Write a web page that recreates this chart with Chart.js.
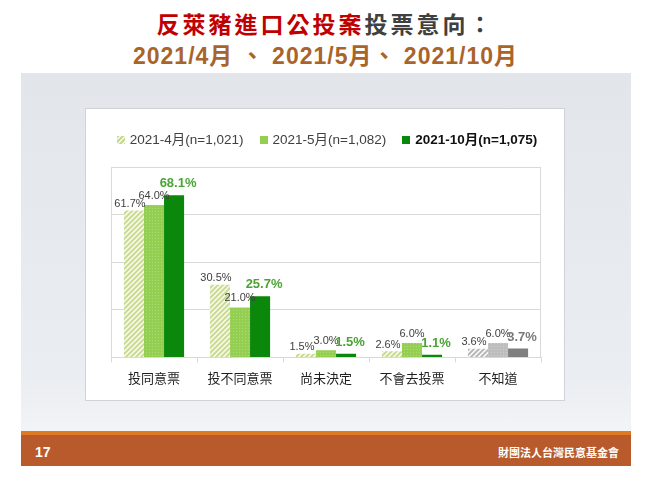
<!DOCTYPE html>
<html>
<head>
<meta charset="utf-8">
<script src="https://cdn.jsdelivr.net/npm/chart.js@4"></script>
<style>
  body { margin: 0; width: 651px; height: 483px; background: #fff; position: relative; overflow: hidden;
         font-family: "Liberation Sans", "Noto Sans CJK TC", sans-serif; }
  .title1 { position: absolute; top: 8px; left: 0; width: 651px; text-align: center; font-size: 23px;
            font-weight: bold; letter-spacing: 3px; color: #404040; line-height: 30px;
            font-family: "Noto Sans CJK TC", sans-serif; }
  .title1 .red { color: #c00000; }
  .title2 { position: absolute; top: 41px; left: 0; width: 651px; text-align: center; font-size: 23px;
            font-weight: bold; letter-spacing: 1px; color: #a9642a; line-height: 30px; }
  .panel { position: absolute; left: 21px; top: 73px; width: 610px; height: 358px;
           background: linear-gradient(#e2e6ea, #eaedf1 85%, #f2f4f7); }
  .box { position: absolute; left: 85px; top: 108px; width: 478px; height: 291px; background: #fff;
         border: 1px solid #cfd2d6; }
  #chart { position: absolute; left: 85px; top: 108px; }
  .legend { position: absolute; left: 85px; top: 131px; width: 484px; display: flex; justify-content: center;
            font-size: 13.5px; color: #404040; line-height: 18px; }
  .legend .item { display: flex; align-items: center; margin: 0 8px; }
  .legend .sw { width: 8px; height: 8px; margin-right: 5px; }
  .legend .bold { font-weight: bold; color: #111; }
  .footer { position: absolute; left: 21px; top: 431px; width: 610px; height: 35px; background: #b95a2c;
            border-top: 4px solid #e07a22; box-sizing: border-box; color: #fff; }
  .footer .num { position: absolute; left: 14px; top: 9px; font-size: 14px; font-weight: bold; }
  .footer .org { position: absolute; right: 12px; top: 9px; font-size: 11px; font-weight: bold;
                 font-family: "Noto Sans CJK TC", sans-serif; }
</style>
</head>
<body>
<div class="title1"><span class="red">反萊豬進口公投案</span>投票意向：</div>
<div class="title2">2021/4月 、 2021/5月、 2021/10月</div>
<div class="panel"></div>
<div class="box"></div>
<canvas id="chart" width="480" height="293"></canvas>
<div class="legend" id="legend"></div>
<div class="footer"><span class="num">17</span><span class="org">財團法人台灣民意基金會</span></div>

<script>
const categories = ['投同意票', '投不同意票', '尚未決定', '不會去投票', '不知道'];
const apr = [61.7, 30.5, 1.5, 2.6, 3.6];
const may = [64.0, 21.0, 3.0, 6.0, 6.0];
const oct = [68.1, 25.7, 1.5, 1.1, 3.7];
const seriesLabels = ['2021-4月(n=1,021)', '2021-5月(n=1,082)', '2021-10月(n=1,075)'];

// diagonal "/" hatch
function hatch(stripe, bg) {
    const c = document.createElement('canvas');
    c.width = 5; c.height = 5;
    const g = c.getContext('2d');
    g.fillStyle = bg;
    g.fillRect(0, 0, 5, 5);
    g.strokeStyle = stripe;
    g.lineWidth = 1.8;
    g.beginPath();
    g.moveTo(-1, 6); g.lineTo(6, -1);
    g.moveTo(-1, 1); g.lineTo(1, -1);
    g.moveTo(4, 6); g.lineTo(6, 4);
    g.stroke();
    return g.createPattern(c, 'repeat');
}

// speckled fill for the middle series
function dots(base, dot) {
    const c = document.createElement('canvas');
    c.width = 3; c.height = 3;
    const g = c.getContext('2d');
    g.fillStyle = base;
    g.fillRect(0, 0, 3, 3);
    g.fillStyle = dot;
    g.fillRect(1, 1, 1, 1);
    return g.createPattern(c, 'repeat');
}

const ctx = document.getElementById('chart').getContext('2d');
const aprFill = hatch('#c6da8c', '#f5f8e8');
const aprGray = hatch('#b3b3b3', '#f7f7f7');
const mayFill = dots('#94cf52', '#abdb78');
const mayGray = dots('#bdbdbd', '#cfcfcf');

const fills = [
    categories.map((c, i) => i === 4 ? aprGray : aprFill),
    categories.map((c, i) => i === 4 ? mayGray : mayFill),
    categories.map((c, i) => i === 4 ? '#7f7f7f' : '#0b870b')
];

// legend
const legendSw = [
    'repeating-linear-gradient(135deg, #c6da8c 0 1.5px, #f5f8e8 1.5px 3.5px)',
    '#94cf52',
    '#0b870b'
];
document.getElementById('legend').innerHTML = seriesLabels.map((l, i) =>
    '<div class="item"><div class="sw" style="background:' + legendSw[i] + '"></div>' +
    '<span class="' + (i === 2 ? 'bold' : '') + '">' + l + '</span></div>').join('');

const valueLabels = {
    id: 'valueLabels',
    afterDatasetsDraw(chart) {
        const c = chart.ctx;
        const shift = [-4, 0, 4];
        c.save();
        c.textAlign = 'center';
        c.textBaseline = 'bottom';
        chart.data.datasets.forEach((ds, di) => {
            chart.getDatasetMeta(di).data.forEach((bar, i) => {
                const txt = ds.data[i].toFixed(1) + '%';
                if (di === 2) {
                    c.font = 'bold 13px "Liberation Sans", Arial, sans-serif';
                    c.fillStyle = i === 4 ? '#7a7a7a' : '#4aa336';
                    c.fillText(txt, bar.x + shift[di], bar.y - 5);
                } else {
                    c.font = '11px "Liberation Sans", Arial, sans-serif';
                    c.fillStyle = '#404040';
                    c.fillText(txt, bar.x + shift[di], bar.y - (di === 1 ? 4 : 1));
                }
            });
        });
        c.restore();
    }
};

const areaBorder = {
    id: 'areaBorder',
    afterDraw(chart) {
        const a = chart.chartArea;
        const c = chart.ctx;
        c.save();
        c.strokeStyle = '#d9d9d9';
        c.lineWidth = 1;
        c.strokeRect(Math.round(a.left) + 0.5, Math.round(a.top) + 0.5,
                     Math.round(a.right - a.left) - 1, Math.round(a.bottom - a.top));
        c.restore();
    }
};

new Chart(ctx, {
    type: 'bar',
    data: {
        labels: categories,
        datasets: [
            { label: seriesLabels[0], data: apr, backgroundColor: fills[0] },
            { label: seriesLabels[1], data: may, backgroundColor: fills[1] },
            { label: seriesLabels[2], data: oct, backgroundColor: fills[2] }
        ]
    },
    options: {
        responsive: false,
        animation: false,
        datasets: { bar: { categoryPercentage: 0.7, barPercentage: 1.0 } },
        layout: { padding: { left: 26, right: 24, top: 59, bottom: 7 } },
        plugins: { legend: { display: false }, tooltip: { enabled: false } },
        scales: {
            x: {
                grid: { drawOnChartArea: false, tickLength: 5, color: '#d9d9d9' },
                border: { color: '#d9d9d9' },
                ticks: { color: '#1f1f1f', padding: 8,
                         font: { size: 13, family: '"Noto Sans CJK TC", sans-serif' } }
            },
            y: {
                min: 0, max: 80,
                ticks: { display: false, stepSize: 20 },
                grid: { color: '#d9d9d9', drawTicks: false },
                border: { color: '#d9d9d9' }
            }
        }
    },
    plugins: [valueLabels, areaBorder]
});
</script>
</body>
</html>
